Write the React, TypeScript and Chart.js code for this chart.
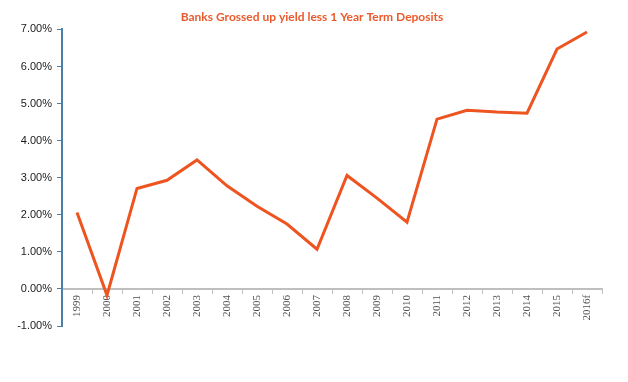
import React, { useEffect, useRef } from "react";
import { Chart, registerables } from "chart.js";

Chart.register(...registerables);

const categories = ["1999", "2000", "2001", "2002", "2003", "2004", "2005", "2006", "2007", "2008", "2009", "2010", "2011", "2012", "2013", "2014", "2015", "2016f"];
const spreadValues = [2.06, -0.17, 2.71, 2.93, 3.48, 2.78, 2.23, 1.75, 1.07, 3.06, 2.45, 1.8, 4.58, 4.82, 4.77, 4.74, 6.47, 6.93];
const yTicks = [-1, 0, 1, 2, 3, 4, 5, 6, 7];
const titleText = "Banks Grossed up yield less 1 Year Term Deposits";

export default function App() {
  const ref = useRef<HTMLCanvasElement | null>(null);
  useEffect(() => {
    if (!ref.current) return;
    const chart = new Chart(ref.current, {
      type: "line",
      data: {
        labels: categories,
        datasets: [
          {
            data: spreadValues,
            borderColor: "#EE5420",
            borderWidth: 3,
            pointRadius: 0,
            tension: 0,
            fill: false,
            yAxisID: "y",
          },
        ],
      },
      options: {
        animation: false,
        responsive: false,
        devicePixelRatio: 1,
        layout: { padding: { left: 0, right: 4, top: 0, bottom: 56 } },
        plugins: {
          legend: { display: false },
          tooltip: { enabled: false },
          title: {
            display: true,
            text: titleText,
            color: "#EB5A2C",
            font: { family: "Lato", size: 12, weight: "bold", lineHeight: 1.2 },
            padding: { top: 10, bottom: 5 },
          },
        },
        scales: {
          x: {
            type: "category",
            position: { y: 0 } as any,
            offset: true,
            grid: {
              display: true,
              drawOnChartArea: false,
              drawTicks: true,
              tickLength: 4,
              color: "#BFBFBF",
              offset: true,
            },
            border: { display: true, color: "#BFBFBF", width: 2 },
            ticks: {
              minRotation: 90,
              maxRotation: 90,
              autoSkip: false,
              padding: 2,
              color: "#505050",
              font: { family: "Liberation Serif", size: 11 },
            },
          },
          y: {
            type: "linear",
            position: "left",
            min: -1,
            max: 7,
            afterBuildTicks: (s: any) => {
              s.ticks = yTicks.map((v) => ({ value: v }));
            },
            afterFit: (s: any) => {
              s.width = 62;
            },
            grid: {
              display: true,
              drawOnChartArea: false,
              drawTicks: true,
              tickLength: 5,
              color: "#4A7FA8",
            },
            border: { display: true, color: "#4A7FA8", width: 2 },
            ticks: {
              padding: 5,
              color: "#1a1a1a",
              font: { family: "Liberation Sans", size: 11 },
              callback: (v: any) => Number(v).toFixed(2) + "%",
            },
          },
          yRightSpace: {
            type: "linear",
            position: "right",
            min: -1,
            max: 7,
            afterFit: (s: any) => {
              s.width = 22;
            },
            grid: { display: false, drawTicks: false },
            border: { display: false },
            ticks: { display: false },
          },
        },
      },
    });
    return () => chart.destroy();
  }, []);
  return (
    <div style={{ position: "fixed", left: 0, top: 0, width: 628, height: 382, background: "#fff" }}>
      <canvas ref={ref} width={628} height={382} style={{ width: 628, height: 382 }} />
    </div>
  );
}
